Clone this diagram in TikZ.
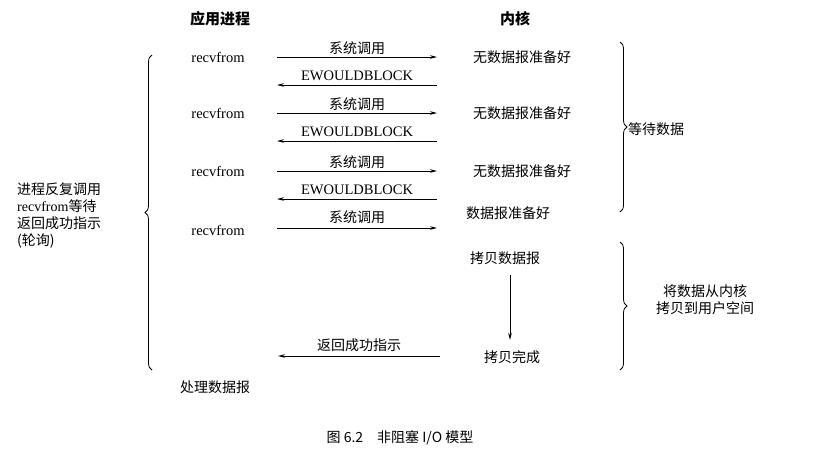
\documentclass[tikz,border=0pt]{standalone}
\usepackage{fontspec}
\setmainfont{Liberation Serif}
\newfontfamily\cjk{Noto Sans CJK SC}
\usetikzlibrary{arrows.meta,positioning,decorations.pathreplacing}
\begin{document}
\begin{tikzpicture}[x=1pt, y=-1pt,
        txt/.style={inner sep=1pt, font=\cjk\fontsize{14}{17}\selectfont},
        head/.style={inner sep=1pt, font=\cjk\bfseries\fontsize{15}{17}\selectfont},
        call/.style={inner sep=1pt, font=\fontsize{14.5}{17}\selectfont},
        arrow/.style={-{Stealth[length=7pt,width=3.5pt]}, line width=0.8pt},
        brace/.style={decorate, decoration={brace, amplitude=7pt}, line width=0.8pt}
    ]
    \useasboundingbox (0,0) rectangle (828,461);

    \node[head] (app) at (220,19) {应用进程};
    \node[head] (kern) at (515,19) {内核};

    % polling rounds
    \foreach \i/\y in {1/57,2/113,3/171}{
        \node[call] (rv\i) at (218,\y) {recvfrom};
        \node[txt] (nd\i) at (522,\y) {无数据报准备好};
        \coordinate (a\i) at (277,\y);
        \coordinate (b\i) at (437,\y);
        \coordinate (c\i) at (437,\y+28);
        \coordinate (d\i) at (277,\y+28);
        \draw[arrow] (a\i) -- node[txt, above=1pt] {系统调用} (b\i);
        \draw[arrow] (c\i) -- node[call, above=3pt] {EWOULDBLOCK} (d\i);
    }
    \node[call] (rv4) at (218,230) {recvfrom};
    \node[txt] (rdy) at (508,213) {数据报准备好};
    \coordinate (a4) at (277,228);
    \coordinate (b4) at (437,228);
    \draw[arrow] (a4) -- node[txt, above=3pt] {系统调用} (b4);

    % copy
    \node[txt] (cp) at (505,258) {拷贝数据报};
    \node[txt] (done) at (512,357) {拷贝完成};
    \draw[arrow] (510,275) -- (510,340);
    \coordinate (r1) at (440,356);
    \coordinate (r2) at (278,356);
    \draw[arrow] (r1) -- node[txt, above=3pt] {返回成功指示} (r2);
    \node[txt] (proc) at (215,387) {处理数据报};

    % braces
    \draw[brace] (620,42) -- (620,212);
    \node[txt] (wait) at (656,129) {等待数据};
    \draw[brace] (620,242) -- (620,370);
    \node[txt, align=center] (copy) at (705,300) {将数据从内核\\拷贝到用户空间};
    \draw[brace] (152,370) -- (152,55);
    \node[txt, align=left, anchor=west] (loop) at (16,215)
        {进程反复调用\\{\rmfamily recvfrom}等待\\返回成功指示\\(轮询)};

    \node[txt] (cap) at (400,438) {图 6.2\quad 非阻塞 I/O 模型};
\end{tikzpicture}
\end{document}
